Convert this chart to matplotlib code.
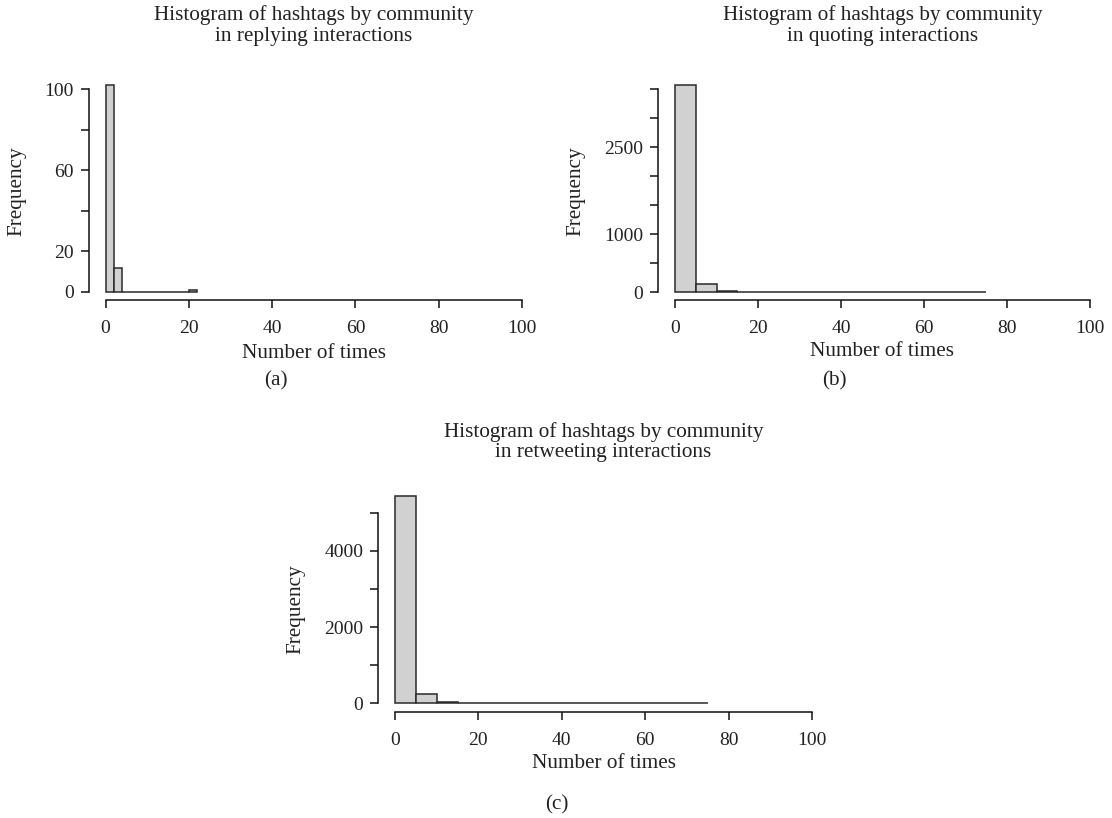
import numpy as np
import matplotlib
matplotlib.use("Agg")
import matplotlib.pyplot as plt

# ---------------- data ----------------
breaks_a = [0, 2, 4, 6, 8, 10, 12, 14, 16, 18, 20, 22]
counts_a = [102, 12, 0, 0, 0, 0, 0, 0, 0, 0, 1]

breaks_b = [0, 5, 10, 15, 20, 25, 30, 35, 40, 45, 50, 55, 60, 65, 70, 75]
counts_b = [3580, 133, 22, 4, 2, 1, 1, 0, 1, 0, 0, 0, 0, 0, 1]

breaks_c = [0, 5, 10, 15, 20, 25, 30, 35, 40, 45, 50, 55, 60, 65, 70, 75]
counts_c = [5445, 236, 30, 6, 3, 2, 1, 1, 0, 1, 0, 0, 0, 0, 1]

xticks = [0, 20, 40, 60, 80, 100]
yticks_a = [0, 20, 40, 60, 80, 100]
ylabels_a = ["0", "20", "", "60", "", "100"]
yticks_b = [0, 500, 1000, 1500, 2000, 2500, 3000, 3500]
ylabels_b = ["0", "", "1000", "", "", "2500", "", ""]
yticks_c = [0, 1000, 2000, 3000, 4000, 5000]
ylabels_c = ["0", "", "2000", "", "4000", ""]

titles = [("Histogram of hashtags by community", "in replying interactions"),
          ("Histogram of hashtags by community", "in quoting interactions"),
          ("Histogram of hashtags by community", "in retweeting interactions")]
panel_tags = ["(a)", "(b)", "(c)"]

# ---------------- style ----------------
W, H = 1112, 818
DPI = 100
FONT = ["Liberation Serif", "DejaVu Serif"]
FS = 15.3
FS_TICK = 14
TXT = "#222222"
plt.rcParams["font.family"] = FONT
fig = plt.figure(figsize=(W / DPI, H / DPI), dpi=DPI)

FILL = "#d0d1d0"
EDGE = "#2a2a2a"


def px2pt(p):
    return p * 72.0 / DPI


def make_panel(breaks, counts, yticks, ylabels, x0px, x100px, y0px, ppu_y,
               title, title_y, ylab_xy, xlab_y):
    ymax = max(counts)
    xl = (-4, 104)
    yl = (-0.04 * ymax, 1.04 * ymax)
    ppu_x = (x100px - x0px) / 100.0
    left = x0px + xl[0] * ppu_x
    right = x0px + xl[1] * ppu_x
    top = y0px - yl[1] * ppu_y
    bottom = y0px - yl[0] * ppu_y
    ax = fig.add_axes([left / W, 1 - bottom / H, (right - left) / W, (bottom - top) / H])
    ax.set_xlim(*xl)
    ax.set_ylim(*yl)
    b = np.asarray(breaks, dtype=float)
    ax.bar(b[:-1], counts, width=np.diff(b), align="edge", color=FILL,
           edgecolor=EDGE, linewidth=1.1)
    for s in ("top", "right"):
        ax.spines[s].set_visible(False)
    for s in ("left", "bottom"):
        ax.spines[s].set_linewidth(1.1)
        ax.spines[s].set_color("#111111")
    ax.spines["left"].set_bounds(yticks[0], yticks[-1])
    ax.spines["bottom"].set_bounds(xticks[0], xticks[-1])
    ax.set_xticks(xticks)
    ax.set_xticklabels([str(t) for t in xticks])
    ax.set_yticks(yticks)
    ax.set_yticklabels(ylabels)
    ax.tick_params(axis="both", direction="out", length=px2pt(8), width=1.1,
                   color="#111111", labelsize=FS_TICK, labelcolor=TXT)
    ax.tick_params(axis="x", pad=px2pt(12))
    ax.tick_params(axis="y", pad=px2pt(7))
    ax.patch.set_alpha(0)

    cx = x0px + 50 * ppu_x
    fig.text(cx / W, 1 - title_y[0] / H, title[0], ha="center", va="center",
             fontsize=FS, color=TXT)
    fig.text(cx / W, 1 - title_y[1] / H, title[1], ha="center", va="center",
             fontsize=FS, color=TXT)
    fig.text(cx / W, 1 - xlab_y / H, "Number of times", ha="center",
             va="center", fontsize=FS, color=TXT)
    fig.text(ylab_xy[0] / W, 1 - ylab_xy[1] / H, "Frequency", ha="center",
             va="center", rotation=90, fontsize=FS, color=TXT)
    return ax


make_panel(breaks_a, counts_a, yticks_a, ylabels_a, 105.5, 522, 292, 2.03,
           titles[0], (15, 36), (17, 191), 353)
make_panel(breaks_b, counts_b, yticks_b, ylabels_b, 675, 1090, 292, 0.05787,
           titles[1], (15, 36), (576, 191), 352)
make_panel(breaks_c, counts_c, yticks_c, ylabels_c, 395, 812, 703.3, 0.03808,
           titles[2], (432, 453), (296, 609), 764)

fig.text(276 / W, 1 - 381 / H, panel_tags[0], ha="center", va="center", fontsize=FS, color=TXT)
fig.text(834 / W, 1 - 381 / H, panel_tags[1], ha="center", va="center", fontsize=FS, color=TXT)
fig.text(557 / W, 1 - 805 / H, panel_tags[2], ha="center", va="center", fontsize=FS, color=TXT)

fig.savefig("out.png", dpi=DPI)
